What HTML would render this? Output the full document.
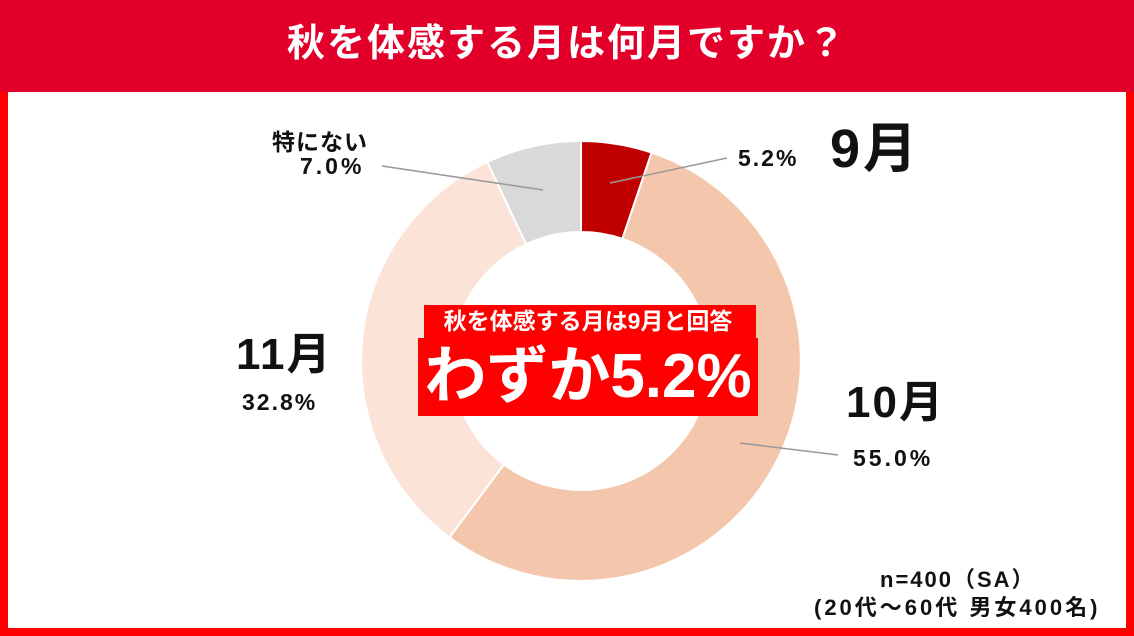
<!DOCTYPE html><html><head><meta charset="utf-8"><style>
body{margin:0;width:1134px;height:636px;overflow:hidden;background:#fff;font-family:"Liberation Sans","Noto Sans CJK JP",sans-serif;font-weight:bold}
.t{position:absolute;white-space:nowrap;color:#111}
</style></head><body>
<div style="position:absolute;left:0;top:0;width:1134px;height:636px;box-sizing:border-box;border:8px solid #ff0000;border-top:none"></div>
<div style="position:absolute;left:0;top:0;width:1134px;height:92px;background:#e2002a"></div>
<div class="t" style="left:0;width:1134px;top:20px;text-align:center;color:#fff;font-size:38px;line-height:48px;letter-spacing:2px">秋を体感する月は何月ですか？</div>
<svg style="position:absolute;left:0;top:0" width="1134" height="636">
<path d="M581,141 A220,220 0 0 1 651.6,152.6 L622.4,238.8 A129,129 0 0 0 581,232 Z" fill="#c00000" stroke="#fff" stroke-width="2"/>
<path d="M651.6,152.6 A220,220 0 1 1 449.5,537.4 L503.9,464.4 A129,129 0 1 0 622.4,238.8 Z" fill="#f4c6ac" stroke="#fff" stroke-width="2"/>
<path d="M449.5,537.4 A220,220 0 0 1 487.3,162 L526.1,244.3 A129,129 0 0 0 503.9,464.4 Z" fill="#fbe4d7" stroke="#fff" stroke-width="2"/>
<path d="M487.3,162 A220,220 0 0 1 581,141 L581,232 A129,129 0 0 0 526.1,244.3 Z" fill="#d9d9d9" stroke="#fff" stroke-width="2"/>
<line x1="610" y1="183" x2="727" y2="158" stroke="#999" stroke-width="1.5"/>
<line x1="740" y1="443" x2="838" y2="455" stroke="#999" stroke-width="1.5"/>
<line x1="543" y1="190" x2="382" y2="166" stroke="#999" stroke-width="1.5"/>
</svg>
<div style="position:absolute;left:424px;top:305px;width:332px;height:34px;background:#ff0000"></div>
<div style="position:absolute;left:418px;top:338px;width:340px;height:78px;background:#ff0000"></div>
<div class="t" style="left:418px;width:340px;text-align:center;top:306px;color:#fff;font-size:23px;line-height:30px">秋を体感する月は9月と回答</div>
<div class="t" style="left:418px;width:340px;text-align:center;top:339px;color:#fff;font-size:62px;line-height:76px">わずか5.2%</div>
<div class="t" style="left:738px;top:145px;font-size:23px;letter-spacing:2px">5.2%</div>
<div class="t" style="left:830px;top:118px;font-size:54px;line-height:62px;letter-spacing:3px">9月</div>
<div class="t" style="left:846px;top:377px;font-size:44px;line-height:52px;letter-spacing:2px">10月</div>
<div class="t" style="left:853px;top:445px;font-size:23px;letter-spacing:3px">55.0%</div>
<div class="t" style="left:236px;top:329px;font-size:44px;line-height:52px;letter-spacing:2px">11月</div>
<div class="t" style="left:242px;top:389px;font-size:23px;letter-spacing:2px">32.8%</div>
<div class="t" style="left:272px;top:123px;font-size:23px;letter-spacing:1px">特にない</div>
<div class="t" style="left:300px;top:153px;font-size:23px;letter-spacing:3px">7.0%</div>
<div class="t" style="left:880px;top:562px;font-size:22px;letter-spacing:2px">n=400（SA）</div>
<div class="t" style="left:814px;top:590px;font-size:22px;letter-spacing:3px">(20代～60代 男女400名)</div>
</body></html>
